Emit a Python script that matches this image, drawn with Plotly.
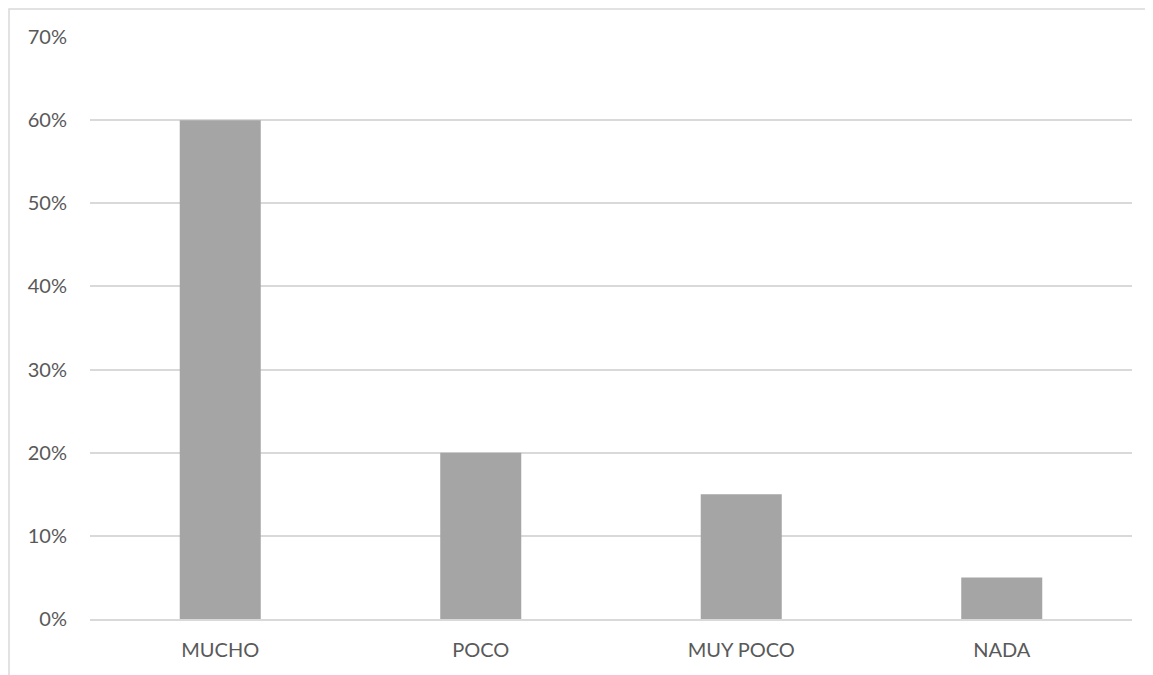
import plotly.graph_objects as go

categories = ["MUCHO", "POCO", "MUY POCO", "NADA"]
values = [0.60, 0.20, 0.15, 0.05]

W, H = 1153, 675
ml, mr, mt, mb = 82, 29, 29, 64
pw, ph = W - ml - mr, H - mt - mb

fig = go.Figure(go.Bar(x=categories, y=values, marker=dict(color="#a5a5a5", line=dict(width=0))))

font = dict(family="Lato, Open Sans, sans-serif", size=20, color="#595959")
fig.update_layout(
    width=W, height=H,
    margin=dict(l=ml, r=mr, t=mt, b=mb),
    paper_bgcolor="white", plot_bgcolor="white",
    bargap=0.689,
    showlegend=False,
    font=font,
    xaxis=dict(showgrid=False, showline=True, linecolor="#d9d9d9", linewidth=1.5,
               ticks="", ticklabelstandoff=12, tickfont=font),
    yaxis=dict(range=[0, 0.7], dtick=0.1, tickformat=".0%", showgrid=True,
               gridcolor="#d9d9d9", gridwidth=1.5, zeroline=False, showline=False,
               ticks="", ticklabelstandoff=22, tickfont=font),
    shapes=[dict(type="rect", xref="paper", yref="paper",
                 x0=(1 - ml) / pw, x1=(W + 20 - ml) / pw,
                 y0=-0.3, y1=1 + (mt - 1) / ph,
                 line=dict(color="#d9d9d9", width=1.5), fillcolor="rgba(0,0,0,0)", layer="below")],
)
fig.write_html("out.html")
